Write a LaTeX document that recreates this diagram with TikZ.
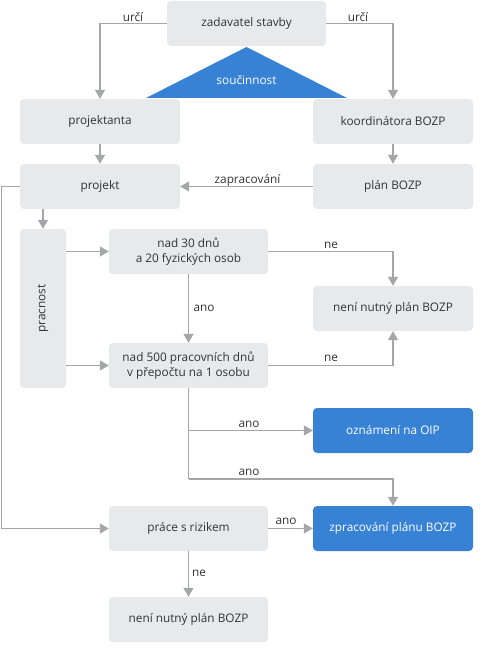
\documentclass[tikz,border=0pt]{standalone}
\usepackage{fontspec}
\setmainfont{Open Sans}
\usetikzlibrary{arrows.meta,positioning,calc}
\definecolor{boxgray}{HTML}{E8E9EB}
\definecolor{boxblue}{HTML}{3882D6}
\definecolor{linegray}{HTML}{A4A6A9}
\definecolor{txt}{HTML}{333333}
\tikzset{
  gbox/.style={fill=boxgray, rounded corners=4pt, minimum width=160pt, minimum height=45pt, inner sep=0pt, align=center, text=txt, font=\fontsize{11.8}{15}\selectfont},
  sbox/.style={gbox, minimum width=159pt},
  bbox/.style={gbox, fill=boxblue, text=white},
  arr/.style={draw=linegray, line width=1.3pt, -{Triangle[length=9pt,width=10pt]}, color=linegray},
  ln/.style={draw=linegray, line width=1.3pt},
  lbl/.style={text=txt, font=\fontsize{11.8}{14}\selectfont, inner sep=0pt}
}
\begin{document}
\begin{tikzpicture}[x=1pt,y=-1pt]
\useasboundingbox (0,0) rectangle (490,650);
% triangle
\fill[boxblue] (246.5,47) -- (347,98) -- (146,98) -- cycle;
\node[lbl, text=white] (souc) at (246.5,80) {součinnost};
% boxes
\node[sbox] (zad) at (246.5,23.5) {zadavatel stavby};
\node[gbox] (pta) at (100,121.5) {projektanta};
\node[gbox] (koo) at (393,121.5) {koordinátora BOZP};
\node[gbox] (prj) at (100,186.5) {projekt};
\node[gbox] (plan) at (393,186.5) {plán BOZP};
\node[gbox, minimum width=46pt, minimum height=159pt] (prac) at (43,308.5) {};
\node[lbl, rotate=90] (pract) at (prac.center) {pracnost};
\node[sbox] (n30) at (188.5,251.5) {nad 30 dnů\\a 20 fyzických osob};
\node[gbox] (nen1) at (393,308.5) {není nutný plán BOZP};
\node[sbox] (n500) at (188.5,365.5) {nad 500 pracovních dnů\\v přepočtu na 1 osobu};
\node[bbox] (oip) at (393,430.5) {oznámení na OIP};
\node[sbox] (pr) at (188.5,528.5) {práce s rizikem};
\node[bbox] (zpr) at (393,528.5) {zpracování plánu BOZP};
\node[sbox] (nen2) at (188.5,619.5) {není nutný plán BOZP};
% connectors
\draw[arr] (zad.west) -| (pta.north);
\draw[arr] (zad.east) -| (koo.north);
\node[lbl] (u1) at (133,17) {určí};
\node[lbl] (u2) at (358,17) {určí};
\draw[arr] (pta.south) -- (prj.north);
\draw[arr] (koo.south) -- (plan.north);
\draw[arr] (plan.west) -- (prj.east);
\node[lbl] (zap) at (247.5,180) {zapracování};
\draw[arr] (prac.north |- prj.south) -- (prac.north);
\coordinate (lft) at (1.5,186.5);
\draw[arr] (prj.west) -- (lft) |- (pr.west);
\draw[arr] (prac.east |- n30.west) -- (n30.west);
\draw[arr] (prac.east |- n500.west) -- (n500.west);
\draw[arr] (n30.east) -| (nen1.north);
\node[lbl] (ne1) at (331,245) {ne};
\draw[arr] (n500.east) -| (nen1.south);
\node[lbl] (ne2) at (331,358) {ne};
\draw[arr] (n30.south) -- (n500.north);
\node[lbl] (ano1) at (204,308) {ano};
\coordinate (j1) at (188.5,479);
\draw[ln] (n500.south) -- (j1);
\draw[arr] (n500.south |- oip.west) -- (oip.west);
\node[lbl] (ano2) at (249,424) {ano};
\draw[arr] (j1) -| (zpr.north);
\node[lbl] (ano3) at (249,472) {ano};
\draw[arr] (pr.east) -- (zpr.west);
\node[lbl] (ano4) at (286,521) {ano};
\draw[arr] (pr.south) -- (nen2.north);
\node[lbl] (ne3) at (199,573) {ne};
\end{tikzpicture}
\end{document}
